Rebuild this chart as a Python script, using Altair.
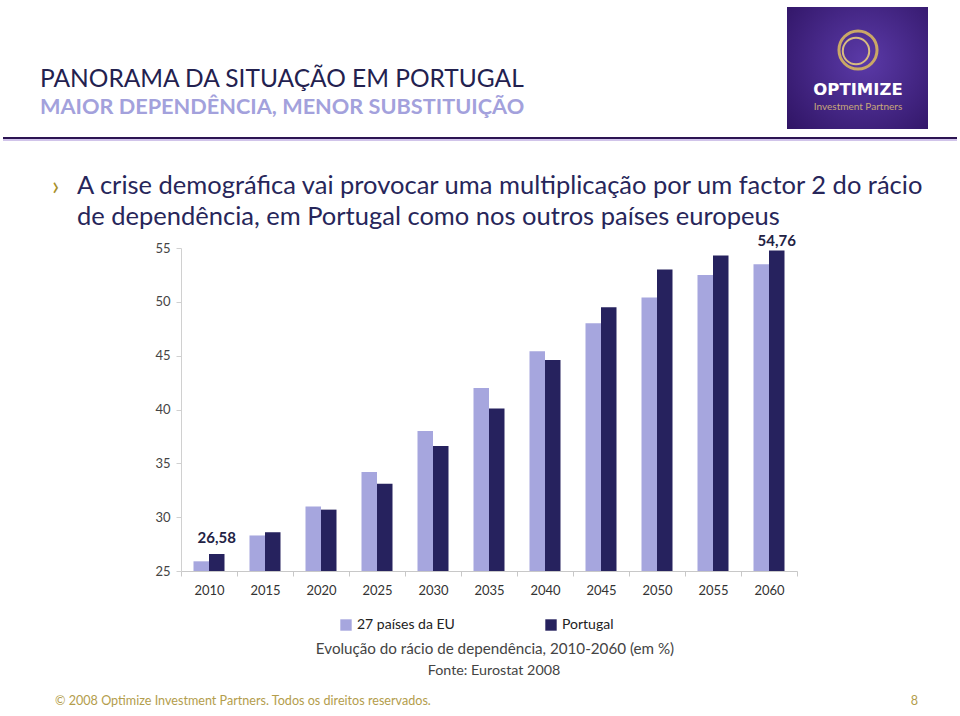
import altair as alt
import pandas as pd

years = ["2010", "2015", "2020", "2025", "2030", "2035", "2040", "2045", "2050", "2055", "2060"]
eu27 = [25.9, 28.3, 31.0, 34.2, 38.0, 42.0, 45.4, 48.0, 50.4, 52.5, 53.5]
portugal = [26.58, 28.6, 30.7, 33.1, 36.6, 40.1, 44.6, 49.5, 53.0, 54.3, 54.76]
series_names = ["27 países da EU", "Portugal"]
series_colors = ["#a6a6de", "#26225e"]
label_years = ["2010", "2060"]
label_texts = ["26,58", "54,76"]

FONT = "Lato"
L, T = 181, 248          # plot origin on the page
W, H = 616, 323          # plot area

rows = []
for y, a, b in zip(years, eu27, portugal):
    rows.append({"ano": y, "serie": series_names[0], "valor": a})
    rows.append({"ano": y, "serie": series_names[1], "valor": b})
df = pd.DataFrame(rows)

lab = pd.DataFrame({
    "ano": label_years,
    "serie": [series_names[1]] * len(label_years),
    "valor": [portugal[years.index(y)] for y in label_years],
    "txt": label_texts,
})

xenc = alt.X("ano:N", sort=years, title=None,
             scale=alt.Scale(paddingInner=0, paddingOuter=0),
             axis=alt.Axis(labelAngle=0, tickBand="extent", tickSize=5, domainColor="#c8c8c8",
                           tickColor="#c8c8c8", labelFontSize=13, labelColor="#333333",
                           labelFont=FONT, labelPadding=8))
xoff = alt.XOffset("serie:N", sort=series_names,
                   scale=alt.Scale(paddingInner=0, paddingOuter=0.806))
yscale = alt.Scale(domain=[25, 55], zero=False, nice=False)

bars = alt.Chart(df).mark_bar(clip=True).encode(
    x=xenc,
    xOffset=xoff,
    y=alt.Y("valor:Q", scale=yscale, title=None,
            axis=alt.Axis(values=[25, 30, 35, 40, 45, 50, 55], grid=False, tickSize=5,
                          domainColor="#d0d0d0", tickColor="#d0d0d0", labelFontSize=13,
                          labelColor="#444444", labelFont=FONT, labelPadding=6)),
    y2=alt.datum(25),
    color=alt.Color("serie:N", sort=series_names, title=None,
                    scale=alt.Scale(domain=series_names, range=series_colors),
                    legend=alt.Legend(orient="none", legendX=158, legendY=370, direction="horizontal",
                                      symbolType="square", symbolSize=130, symbolStrokeWidth=0,
                                      labelFontSize=14, labelFont=FONT, labelColor="#222222",
                                      columnPadding=89, labelOffset=4)),
)


def value_label(year, dy):
    return alt.Chart(lab).transform_filter(alt.datum.ano == year).mark_text(
        dy=dy, fontSize=15, fontWeight="bold", font=FONT, color="#222244").encode(
        x=alt.X("ano:N", sort=years),
        xOffset=alt.XOffset("serie:N", sort=series_names),
        y=alt.Y("valor:Q", scale=yscale),
        text="txt:N",
    )


labels = [value_label("2010", -16), value_label("2060", -10)]

one = pd.DataFrame({"k": [0]})


def txt(s, px, py, size, color, weight="normal", align="left", baseline="alphabetic", font=FONT):
    return alt.Chart(one).mark_text(text=s, fontSize=size, color=color, fontWeight=weight,
                                    align=align, baseline=baseline, font=font).encode(
        x=alt.value(px - L), y=alt.value(py - T))


deco = [
    txt("PANORAMA DA SITUAÇÃO EM PORTUGAL", 40, 87, 24.5, "#23214f"),
    txt("MAIOR DEPENDÊNCIA, MENOR SUBSTITUIÇÃO", 40, 114, 21.7, "#a3a1dc", weight="bold"),
    txt("›", 52, 195, 26, "#a8902a"),
    txt("A crise demográfica vai provocar uma multiplicação por um factor 2 do rácio", 77, 194, 25.5, "#27265a"),
    txt("de dependência, em Portugal como nos outros países europeus", 77, 225, 25.5, "#27265a"),
    txt("Evolução do rácio de dependência, 2010-2060 (em %)", 495, 654, 15.2, "#444444", align="center"),
    txt("Fonte: Eurostat 2008", 494, 675, 14.3, "#444444", align="center"),
    txt("© 2008 Optimize Investment Partners. Todos os direitos reservados.", 55, 705, 12.6, "#b39d4c"),
    txt("8", 918, 705, 12.6, "#b39d4c", align="right"),
]

rule1 = alt.Chart(one).mark_rule(color="#2c1452", strokeWidth=2).encode(
    x=alt.value(3 - L), x2=alt.value(957 - L), y=alt.value(138 - T))
rule2 = alt.Chart(one).mark_rule(color="#a38ad6", strokeWidth=1).encode(
    x=alt.value(3 - L), x2=alt.value(957 - L), y=alt.value(140 - T))

logo_bg = alt.Chart(one).mark_rect(
    color=alt.Gradient(gradient="radial", x1=0.55, y1=0.45, r1=0, x2=0.55, y2=0.45, r2=0.75,
                       stops=[alt.GradientStop(color="#5b3aa8", offset=0),
                              alt.GradientStop(color="#2e1362", offset=1)])
).encode(x=alt.value(787 - L), x2=alt.value(928 - L), y=alt.value(7 - T), y2=alt.value(129 - T))

ring1 = alt.Chart(one).mark_point(shape="circle", filled=False, color="#caa866", strokeWidth=3,
                                  size=1450, opacity=1).encode(
    x=alt.value(858 - L), y=alt.value(50 - T))
ring2 = alt.Chart(one).mark_point(shape="circle", filled=False, color="#d8bb80", strokeWidth=2,
                                  size=700, opacity=1).encode(
    x=alt.value(856 - L), y=alt.value(51 - T))
logo_t1 = txt("OPTIMIZE", 858, 95, 16.5, "#ffffff", weight="bold", align="center", font="DejaVu Sans")
logo_t2 = txt("Investment Partners", 858, 110, 10, "#c8a87a", align="center")

chart = alt.layer(
    bars, *labels, rule1, rule2, logo_bg, ring1, ring2, logo_t1, logo_t2, *deco
).properties(
    width=W, height=H,
    autosize=alt.AutoSizeParams(type="none"),
    padding={"left": L, "top": T, "right": 960 - L - W, "bottom": 716 - T - H},
    background="#ffffff",
).configure_view(stroke=None)

chart.save("out.html", embed_options={"renderer": "svg", "actions": False})
